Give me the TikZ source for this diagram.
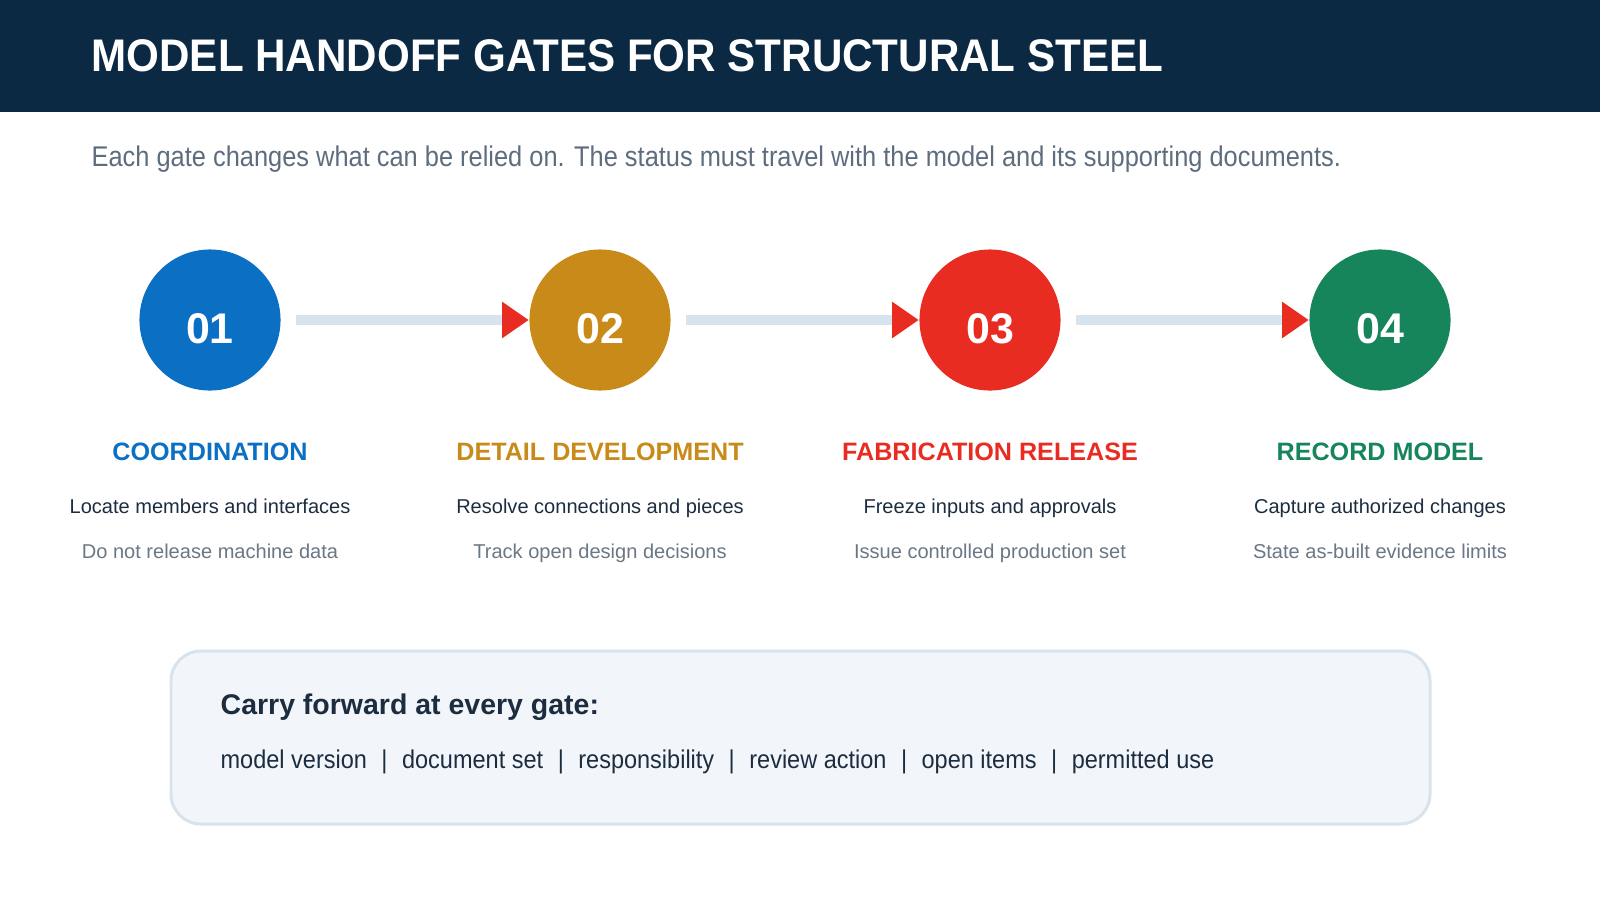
\documentclass[tikz,border=0pt]{standalone}
\usepackage{fontspec}
\setmainfont{Liberation Sans}
\usetikzlibrary{arrows.meta}
\definecolor{navy}{HTML}{0C2944}
\definecolor{subgray}{HTML}{5D6D7E}
\definecolor{textdark}{HTML}{1C2D40}
\definecolor{textgray}{HTML}{6A7785}
\definecolor{linkgray}{HTML}{D7E3ED}
\definecolor{boxfill}{HTML}{F2F6FA}
\definecolor{gateA}{HTML}{0B6FC3}
\definecolor{gateB}{HTML}{C88A18}
\definecolor{gateC}{HTML}{E92C22}
\definecolor{gateD}{HTML}{17855B}

\begin{document}
\begin{tikzpicture}[x=0.01cm,y=-0.01cm,
    gate/.style={circle,minimum size=1.41cm,inner sep=0pt},
    num/.style={anchor=base,text=white,font=\fontsize{12.2}{14}\selectfont\bfseries},
    link/.style={line width=2.8pt,draw=linkgray,
      -{Triangle[length=7.6pt,width=9.9pt,color=gateC]},shorten <=4.3pt}]
      \useasboundingbox (0,0) rectangle (1600,900);
      \fill[navy] (0,0) rectangle (1600,112);
      \node [anchor=base west,text=white,inner sep=0pt,xscale=0.922,transform shape,
        font=\fontsize{13}{15}\selectfont\bfseries]
        (title) at (91,71) {MODEL HANDOFF GATES FOR STRUCTURAL STEEL};
      \node [anchor=base west,text=subgray,inner sep=0pt,xscale=0.892,transform shape,
        font=\fontsize{8.1}{10}\selectfont]
        (lead) at (91,166) {Each gate changes what can be relied on. The status must travel with the model and its supporting documents.};
      \foreach \x/\n/\c/\t/\a/\b in {
          210/1/gateA/COORDINATION/Locate members and interfaces/Do not release machine data,
          600/2/gateB/DETAIL DEVELOPMENT/Resolve connections and pieces/Track open design decisions,
          990/3/gateC/FABRICATION RELEASE/Freeze inputs and approvals/Issue controlled production set,
          1380/4/gateD/RECORD MODEL/Capture authorized changes/State as-built evidence limits} {
        \node [gate,fill=\c] (g\n) at (\x,320) {};
        \node [num] (n\n) at (\x,343) {0\n};
        \node [anchor=base,inner sep=0pt,text=\c,font=\fontsize{7.15}{9}\selectfont\bfseries]
          (t\n) at (\x,460) {\t};
        \node [anchor=base,inner sep=0pt,text=textdark,font=\fontsize{5.7}{7}\selectfont]
          (a\n) at (\x,513) {\a};
        \node [anchor=base,inner sep=0pt,text=textgray,font=\fontsize{5.7}{7}\selectfont]
          (b\n) at (\x,558) {\b};
      }
      \draw [link] (g1.east) -- (g2.west);
      \draw [link] (g2.east) -- (g3.west);
      \draw [link] (g3.east) -- (g4.west);
      \draw [fill=boxfill,draw=linkgray,line width=0.85pt,rounded corners=8.5pt]
        (171,651) rectangle (1430,824);
      \node [anchor=base west,inner sep=0pt,text=textdark,font=\fontsize{8.1}{10}\selectfont\bfseries]
        (carry) at (220,714) {Carry forward at every gate:};
      \node [anchor=base west,inner sep=0pt,text=textdark,xscale=0.916,transform shape,
        font=\fontsize{7.3}{9}\selectfont]
        (items) at (220,768) {model version\hspace{4.5pt}|\hspace{4.5pt}document set\hspace{4.5pt}|\hspace{4.5pt}responsibility\hspace{4.5pt}|\hspace{4.5pt}review action\hspace{4.5pt}|\hspace{4.5pt}open items\hspace{4.5pt}|\hspace{4.5pt}permitted use};
\end{tikzpicture}
\end{document}
